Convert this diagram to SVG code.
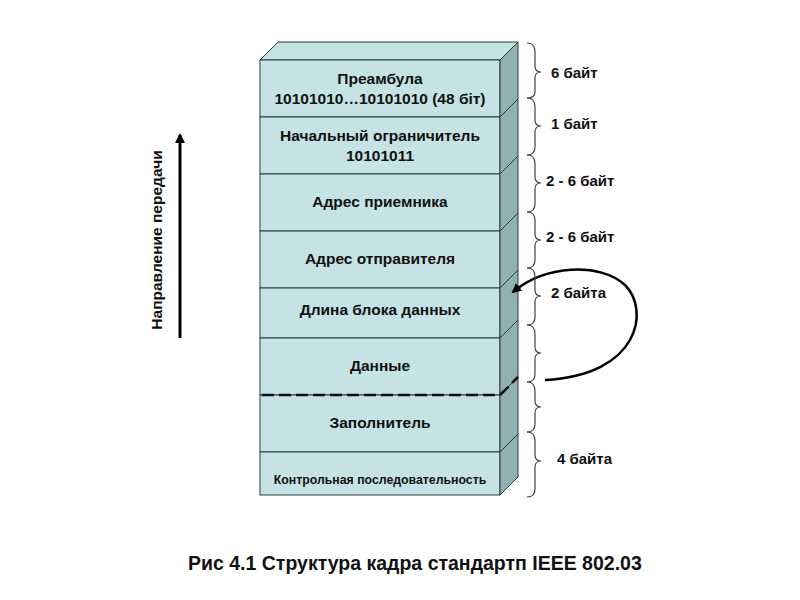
<svg xmlns="http://www.w3.org/2000/svg" width="800" height="600" viewBox="0 0 800 600">
<style>
.f{fill:#c5e3e5;stroke:#2a3a3a;stroke-width:1}
.s{fill:#8fb1b3;stroke:#2a3a3a;stroke-width:1}
.t{font-family:"Liberation Sans",Arial,sans-serif;font-weight:bold;font-size:15.5px;fill:#111;text-anchor:middle}
.b{fill:none;stroke:#444;stroke-width:1.2}
</style>
<defs><marker id="ah" markerWidth="10" markerHeight="10" refX="8" refY="5" orient="auto" markerUnits="userSpaceOnUse"><path d="M0,0L10,5L0,10z" fill="#000"/></marker></defs>
<rect width="800" height="600" fill="#fff"/>
<polygon class="f" points="260,60 278,42 518,42 500,60"/>
<g id="n1"><rect class="f" x="260" y="60" width="240" height="57"/><polygon class="s" points="500,60 518,42 518,99 500,117"/><text class="t" x="380" y="84">Преамбула</text><text class="t" x="380" y="104">10101010…10101010 (48 біт)</text></g>
<g id="n2"><rect class="f" x="260" y="117" width="240" height="57"/><polygon class="s" points="500,117 518,99 518,156 500,174"/><text class="t" x="380" y="141">Начальный ограничитель</text><text class="t" x="380" y="161">10101011</text></g>
<g id="n3"><rect class="f" x="260" y="174" width="240" height="57"/><polygon class="s" points="500,174 518,156 518,213 500,231"/><text class="t" x="380" y="207">Адрес приемника</text></g>
<g id="n4"><rect class="f" x="260" y="231" width="240" height="57"/><polygon class="s" points="500,231 518,213 518,270 500,288"/><text class="t" x="380" y="264">Адрес отправителя</text></g>
<g id="n5"><rect class="f" x="260" y="288" width="240" height="50"/><polygon class="s" points="500,288 518,270 518,320 500,338"/><text class="t" x="380" y="315">Длина блока данных</text></g>
<g id="n6"><rect class="f" x="260" y="338" width="240" height="57"/><polygon class="s" points="500,338 518,320 518,377 500,395"/><text class="t" x="380" y="371">Данные</text></g>
<g id="n7"><rect class="f" x="260" y="395" width="240" height="57"/><polygon class="s" points="500,395 518,377 518,434 500,452"/><text class="t" x="380" y="428">Заполнитель</text></g>
<g id="n8"><rect class="f" x="260" y="452" width="240" height="43"/><polygon class="s" points="500,452 518,434 518,477 500,495"/><text class="t" x="380" y="484" style="font-size:12.3px">Контрольная последовательность</text></g>
<g id="connectors">
<path d="M262,395H500L518,377" fill="none" stroke="#111" stroke-width="2.5" stroke-dasharray="12,5"/>
<path d="M545,380C640,375 650,310 625,285C600,262 545,265 513,292" fill="none" stroke="#000" stroke-width="2.5" marker-end="url(#ah)"/>
<path d="M180,338V135" stroke="#000" stroke-width="3" marker-end="url(#ah)"/>
</g>
<g id="braces">
<path class="b" d="M527,43Q535,43 535,52V66Q535,72 541,72Q535,72 535,78V92Q535,98 527,98"/>
<path class="b" d="M527,98Q535,98 535,107V120Q535,126 541,126Q535,126 535,132V147Q535,155 527,155"/>
<path class="b" d="M527,155Q535,155 535,164V177Q535,183 541,183Q535,183 535,189V204Q535,212 527,212"/>
<path class="b" d="M527,212Q535,212 535,221V234Q535,240 541,240Q535,240 535,246V260Q535,268 527,268"/>
<path class="b" d="M527,268Q535,268 535,277V290Q535,296 541,296Q535,296 535,302V317Q535,325 527,325"/>
<path class="b" d="M527,325Q535,325 535,334V347Q535,353 541,353Q535,353 535,359V374Q535,382 527,382"/>
<path class="b" d="M527,382Q535,382 535,391V401Q535,407 541,407Q535,407 535,413V424Q535,432 527,432"/>
<path class="b" d="M527,432Q535,432 535,441V455Q535,461 541,461Q535,461 535,467V489Q535,497 527,497"/>
</g>
<g class="t" style="text-anchor:start;font-size:15px">
<text x="551" y="78">6 байт</text>
<text x="551" y="129">1 байт</text>
<text x="546" y="186">2 - 6 байт</text>
<text x="546" y="242">2 - 6 байт</text>
<text x="551" y="298">2 байта</text>
<text x="557" y="464">4 байта</text>
</g>
<text class="t" transform="translate(162,240) rotate(-90)">Направление передачи</text>
<text class="t" x="188" y="570" style="text-anchor:start;font-size:19.5px">Рис 4.1 Структура кадра стандартп IEEE 802.03</text>
</svg>
